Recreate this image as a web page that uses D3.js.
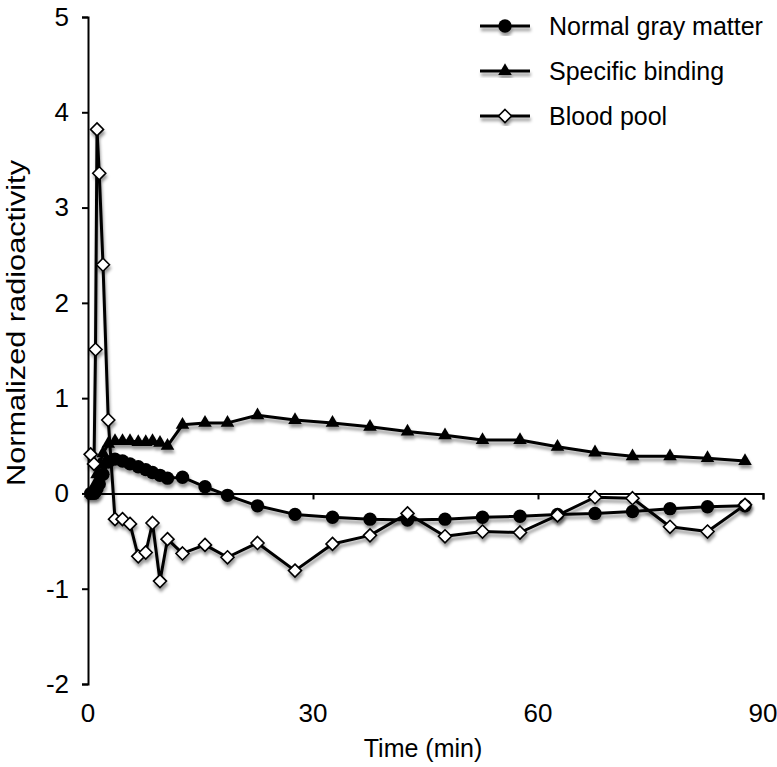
<!DOCTYPE html>
<html>
<head>
<meta charset="utf-8">
<script src="https://cdn.jsdelivr.net/npm/d3@7"></script>
<style>
  html, body { margin: 0; padding: 0; background: #fff; }
  text { font-family: "Liberation Sans", Arial, Helvetica, sans-serif; fill: #000; }
</style>
</head>
<body>
<svg id="chart" width="777" height="767"></svg>
<script>
// ---- data ----
const times = [0.35, 0.8, 1.0, 1.2, 1.5, 2.0, 2.7, 3.6, 4.6, 5.6, 6.7, 7.7, 8.6, 9.6, 10.6, 12.6, 15.6, 18.6, 22.6, 27.6, 32.6, 37.6, 42.6, 47.6, 52.6, 57.6, 62.6, 67.6, 72.6, 77.6, 82.6, 87.6];
const grayMatter = [0.0, 0.0, 0.02, 0.05, 0.1, 0.2, 0.33, 0.36, 0.34, 0.31, 0.28, 0.25, 0.22, 0.19, 0.16, 0.17, 0.07, -0.02, -0.13, -0.22, -0.25, -0.27, -0.28, -0.27, -0.25, -0.24, -0.22, -0.21, -0.19, -0.16, -0.14, -0.13];
const specificBinding = [0.0, 0.02, 0.1, 0.2, 0.3, 0.42, 0.52, 0.55, 0.55, 0.55, 0.54, 0.54, 0.55, 0.53, 0.5, 0.72, 0.74, 0.74, 0.82, 0.77, 0.74, 0.7, 0.65, 0.61, 0.56, 0.56, 0.49, 0.43, 0.39, 0.39, 0.37, 0.34];
const bloodPool = [0.41, 0.31, 1.51, 3.82, 3.36, 2.4, 0.77, -0.27, -0.27, -0.32, -0.66, -0.62, -0.31, -0.92, -0.48, -0.63, -0.54, -0.67, -0.52, -0.81, -0.53, -0.44, -0.21, -0.45, -0.4, -0.41, -0.23, -0.04, -0.05, -0.35, -0.4, -0.12];
const seriesNames = ["Normal gray matter", "Specific binding", "Blood pool"];
const xTicks = [0, 30, 60, 90];
const yTicks = [-2, -1, 0, 1, 2, 3, 4, 5];
const xTitle = "Time (min)";
const yTitle = "Normalized radioactivity";

// ---- chart ----
const svg = d3.select("#chart");
const x = d3.scaleLinear().domain([0, 90]).range([88, 763]);
const y = d3.scaleLinear().domain([-2, 5]).range([684, 17]);

const defs = svg.append("defs");
const f = defs.append("filter").attr("id", "shadow").attr("x", "-20%").attr("y", "-20%").attr("width", "140%").attr("height", "140%");
f.append("feDropShadow").attr("dx", 1).attr("dy", 3.5).attr("stdDeviation", 1.8).attr("flood-color", "#000").attr("flood-opacity", 0.4);

// y axis
const yAxis = d3.axisLeft(y).tickValues(yTicks).tickSize(6).tickPadding(13).tickFormat(d => String(d));
const gy = svg.append("g").attr("transform", `translate(${x(0)},0)`).call(yAxis);
gy.select(".domain").attr("stroke", "#000").attr("stroke-width", 2);
gy.selectAll(".tick line").attr("stroke", "#000").attr("stroke-width", 2);
gy.selectAll(".tick text").style("font-size", "26px").attr("font-family", "Liberation Sans, Arial, sans-serif").attr("fill", "#000");

// x axis at y=0
const xAxis = d3.axisBottom(x).tickValues(xTicks).tickSize(6).tickFormat(() => "");
const gx = svg.append("g").attr("transform", `translate(0,${y(0)})`).call(xAxis);
gx.select(".domain").attr("stroke", "#000").attr("stroke-width", 2);
gx.selectAll(".tick line").attr("stroke", "#000").attr("stroke-width", 2);

// x tick labels at bottom
svg.append("g").selectAll("text").data(xTicks).join("text")
  .attr("x", d => x(d)).attr("y", 722)
  .attr("text-anchor", "middle").style("font-size", "26px").text(d => d);

// axis titles
svg.append("text").attr("x", 423).attr("y", 757).attr("text-anchor", "middle").style("font-size", "25px").text(xTitle);
svg.append("text").attr("transform", "translate(25,323) rotate(-90)").attr("text-anchor", "middle")
  .style("font-size", "25px").attr("textLength", 326).attr("lengthAdjust", "spacingAndGlyphs").text(yTitle);

const line = d3.line().x(d => x(d[0])).y(d => y(d[1]));
const tri = d3.symbol().type(d3.symbolTriangle).size(80);
const diamondPath = "M0,-6.5L6.5,0L0,6.5L-6.5,0Z";

function drawSeries(vals, kind) {
  const pts = times.map((t, i) => [t, vals[i]]);
  const g = svg.append("g").attr("filter", "url(#shadow)");
  g.append("path").datum(pts).attr("d", line).attr("fill", "none").attr("stroke", "#000").attr("stroke-width", 3).attr("stroke-linejoin", "round");
  const m = g.append("g").selectAll("path").data(pts).join("path")
    .attr("transform", d => `translate(${x(d[0])},${y(d[1])})`);
  if (kind === "circle") m.attr("d", d3.symbol().type(d3.symbolCircle).size(140)).attr("fill", "#000");
  if (kind === "triangle") m.attr("d", tri).attr("fill", "#000");
  if (kind === "diamond") m.attr("d", diamondPath).attr("fill", "#fff").attr("stroke", "#000").attr("stroke-width", 1.6);
}
drawSeries(grayMatter, "circle");
drawSeries(specificBinding, "triangle");
drawSeries(bloodPool, "diamond");

// legend
const kinds = ["circle", "triangle", "diamond"];
const lg = svg.append("g");
seriesNames.forEach((name, i) => {
  const yy = 26 + i * 45;
  const gi = lg.append("g").attr("filter", "url(#shadow)");
  gi.append("line").attr("x1", 480).attr("x2", 530).attr("y1", yy).attr("y2", yy).attr("stroke", "#000").attr("stroke-width", 3);
  const mk = gi.append("path").attr("transform", `translate(505,${yy})`);
  if (kinds[i] === "circle") mk.attr("d", d3.symbol().type(d3.symbolCircle).size(140)).attr("fill", "#000");
  if (kinds[i] === "triangle") mk.attr("d", tri).attr("fill", "#000");
  if (kinds[i] === "diamond") mk.attr("d", diamondPath).attr("fill", "#fff").attr("stroke", "#000").attr("stroke-width", 1.6);
  lg.append("text").attr("x", 549).attr("y", yy + 9).style("font-size", "25px").text(name);
});
</script>
</body>
</html>
